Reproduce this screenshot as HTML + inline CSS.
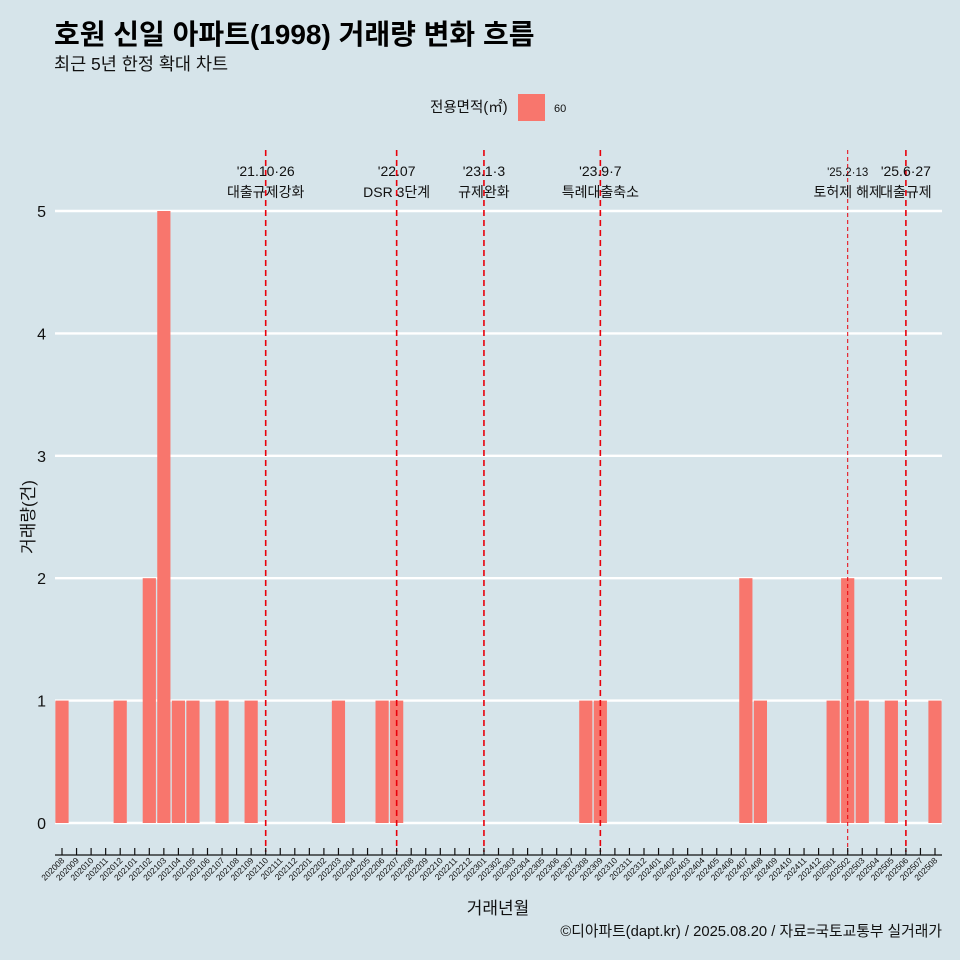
<!DOCTYPE html>
<html><head><meta charset="utf-8"><style>
body{margin:0;background:#d6e4ea;}
svg{display:block;font-family:"Liberation Sans","Noto Sans CJK KR",sans-serif;}
</style></head><body>
<svg id="c" width="960" height="960" viewBox="0 0 960 960">
<rect width="960" height="960" fill="#d6e4ea"/>
<text x="54" y="44" font-size="28" font-weight="bold" fill="#000">호원 신일 아파트(1998) 거래량 변화 흐름</text>
<text x="54" y="70" font-size="17.5" fill="#111">최근 5년 한정 확대 차트</text>
<g>
<text x="430" y="112" font-size="14.5" fill="#111">전용면적(㎡)</text>
<rect x="518" y="94" width="27" height="27" fill="#f8766d"/>
<text x="554" y="112" font-size="11" fill="#111">60</text>
</g>
<g id="grid"></g><g id="bars"></g><g id="events"></g><g id="xaxis"></g>
<text transform="translate(34,517) rotate(-90)" font-size="17" text-anchor="middle" fill="#111">거래량(건)</text>
<text x="498" y="914" font-size="17" text-anchor="middle" fill="#111">거래년월</text>
<text x="942" y="936" font-size="14.8" text-anchor="end" fill="#111">©디아파트(dapt.kr) / 2025.08.20 / 자료=국토교통부 실거래가</text>
</svg>
<script>
const categories=[];
for(let y=2020,m=8;y<2025||(y===2025&&m<=8);){categories.push(y+String(m).padStart(2,'0'));m++;if(m>12){m=1;y++;}}
const volumeMonths=["202008","202012","202102","202103","202104","202105","202107","202109","202203","202206","202207","202308","202309","202407","202408","202501","202502","202503","202505","202508"];
const volumeValues=[1,1,2,5,1,1,1,1,1,1,1,1,1,2,1,1,2,1,1,1];
const yTicks=[0,1,2,3,4,5];
const eventMonths=["202110","202207","202301","202309","202502","202506"];
const eventDates=["'21.10·26","'22.07","'23.1·3","'23.9·7","'25.2·13","'25.6·27"];
const eventLabels=["대출규제강화","DSR 3단계","규제완화","특례대출축소","토허제 해제","대출규제"];
const NS="http://www.w3.org/2000/svg";
const x0=62,step=(935-62)/(categories.length-1);
const xs=i=>x0+i*step;
const ys=v=>823-v*122.4;
function el(t,a,p){const e=document.createElementNS(NS,t);for(const k in a)e.setAttribute(k,a[k]);p.appendChild(e);return e;}
const grid=document.getElementById('grid');
yTicks.forEach(v=>{
 const l=el('line',{x1:55,x2:942,y1:ys(v),y2:ys(v),stroke:'#fff','stroke-width':2.4},grid);
 
 
 const t=el('text',{x:46,y:ys(v)+6,'font-size':16,'text-anchor':'end',fill:'#111'},grid);
 t.textContent=v;
 
 
});
const bars=document.getElementById('bars');
volumeMonths.forEach((m,k)=>{
 const i=categories.indexOf(m);
 const r=el('rect',{x:xs(i)-6.6,y:ys(volumeValues[k]),width:13.2,height:ys(0)-ys(volumeValues[k]),fill:'#f8766d'},bars);
 
 
});
const ev=document.getElementById('events');
eventMonths.forEach((m,k)=>{
 const x=xs(categories.indexOf(m));
 const l=el('line',{x1:x,x2:x,y1:150,y2:852,stroke:'#e8000b','stroke-width':k===4?1:1.6,'stroke-dasharray':k===4?'4,3':'6,4'},ev);
 
 
 const t1=el('text',{x:x,y:176,'font-size':k===4?11.5:14,'text-anchor':'middle',fill:'#111'},ev);
 t1.textContent=eventDates[k];
 
 
 const t2=el('text',{x:x,y:197,'font-size':14,'text-anchor':'middle',fill:'#111'},ev);
 t2.textContent=eventLabels[k];
 
 
});
const xa=document.getElementById('xaxis');
const ax=el('line',{x1:55,x2:942,y1:855,y2:855,stroke:'#111','stroke-width':1.2},xa);


categories.forEach((c,i)=>{
 const x=xs(i);
 const tk=el('line',{x1:x,x2:x,y1:848,y2:855,stroke:'#111','stroke-width':1.2},xa);
 
 
 const t=el('text',{transform:`translate(${x+3},${861}) rotate(-45)`,'font-size':8.5,'text-anchor':'end',fill:'#111'},xa);
 t.textContent=c;
 
 
});
</script>
</body></html>
